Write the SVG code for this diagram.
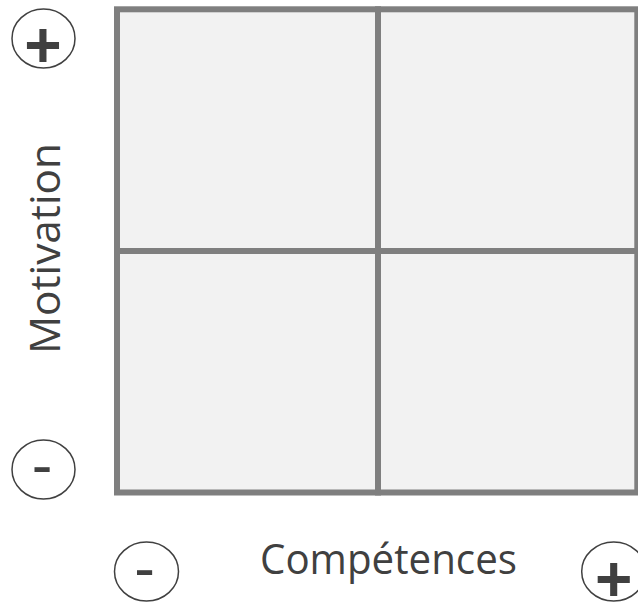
<svg xmlns="http://www.w3.org/2000/svg" width="638" height="602" viewBox="0 0 638 602">
  <style>
    .cell { fill: #f2f2f2; stroke: #7f7f7f; stroke-width: 6; }
    .badge { fill: #ffffff; stroke: #404040; stroke-width: 1.5; }
    .sign { fill: #404040; font-family: "Liberation Sans", Arial, sans-serif; text-anchor: middle; }
    .plus { font-size: 64px; font-weight: bold; }
    .minus { font-size: 62px; font-weight: normal; }
    .label { fill: #404040; font-family: "Open Sans", "Liberation Sans", sans-serif; font-size: 42px; }
  </style>
  <rect width="638" height="602" fill="#ffffff"/>
  <g id="matrix">
    <g id="q-top-left"><rect class="cell" x="117" y="9.3" width="261" height="241.7"/></g>
    <g id="q-top-right"><rect class="cell" x="378" y="9.3" width="259.3" height="241.7"/></g>
    <g id="q-bottom-left"><rect class="cell" x="117" y="251" width="261" height="241.5"/></g>
    <g id="q-bottom-right"><rect class="cell" x="378" y="251" width="259.3" height="241.5"/></g>
  </g>
  <g id="motivation-plus">
    <ellipse class="badge" cx="43.5" cy="38.5" rx="31.5" ry="29.5"/>
    <text class="sign plus" x="43" y="67">+</text>
  </g>
  <g id="motivation-minus">
    <ellipse class="badge" cx="43.5" cy="469.5" rx="31.5" ry="29.5"/>
    <text class="sign minus" x="42" y="486.3">-</text>
  </g>
  <g id="competences-minus">
    <ellipse class="badge" cx="146.5" cy="571.5" rx="32" ry="29.5"/>
    <text class="sign minus" x="144.7" y="589">-</text>
  </g>
  <g id="competences-plus">
    <ellipse class="badge" cx="613.7" cy="571.5" rx="32" ry="29.5"/>
    <text class="sign plus" x="613.8" y="600.7">+</text>
  </g>
  <g id="axis-labels">
    <text class="label" x="260" y="574" textLength="257" lengthAdjust="spacingAndGlyphs">Compétences</text>
    <text class="label" transform="translate(60,354) rotate(-90)" x="0" y="0" textLength="211" lengthAdjust="spacingAndGlyphs">Motivation</text>
  </g>
  <g id="connectors"></g>
</svg>
